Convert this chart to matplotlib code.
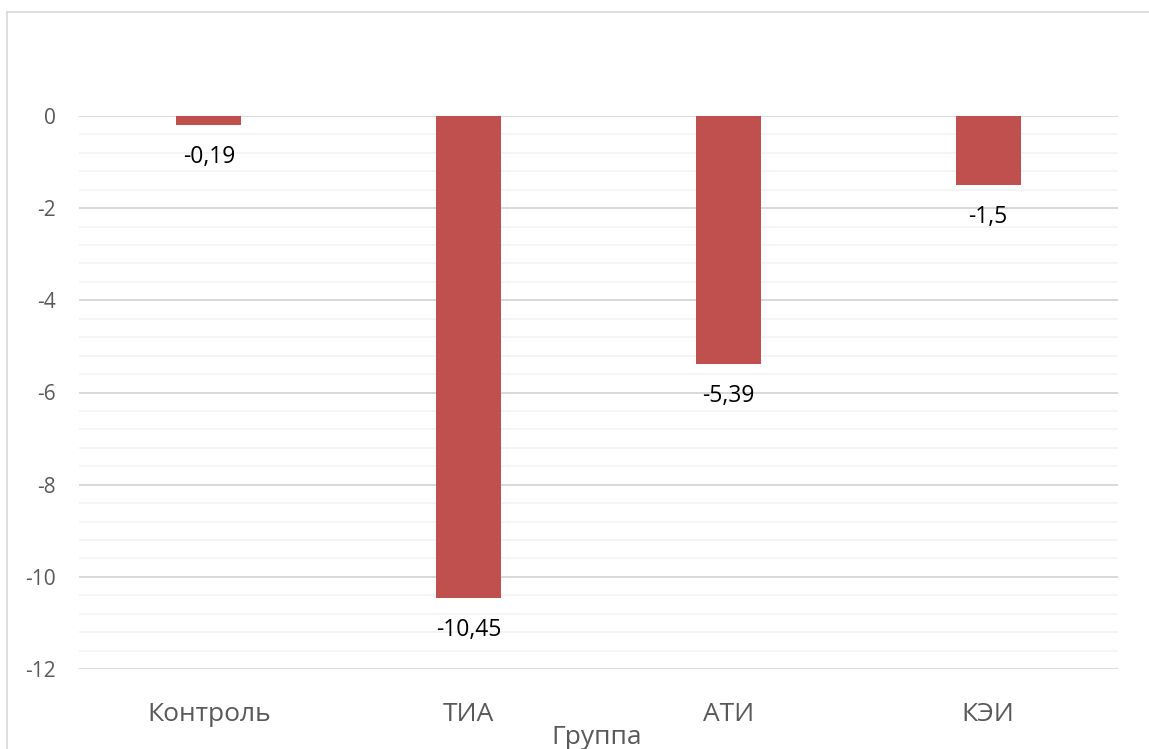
import matplotlib
matplotlib.use("Agg")
import matplotlib.pyplot as plt
from matplotlib.lines import Line2D
import numpy as np

categories = ["Контроль", "ТИА", "АТИ", "КЭИ"]
values = [-0.19, -10.45, -5.39, -1.5]
value_labels = ["-0,19", "-10,45", "-5,39", "-1,5"]
y_ticks = [0, -2, -4, -6, -8, -10, -12]
x_title = "Группа"

plt.rcParams['font.family'] = ['Open Sans', 'DejaVu Sans']

W, H = 1149, 749
fig = plt.figure(figsize=(W / 100, H / 100), dpi=100)

# outer chart border
fig.add_artist(Line2D([7 / W, 7 / W], [0, 1 - 12 / H], color="#D9D9D9", lw=1.2, transform=fig.transFigure))
fig.add_artist(Line2D([7 / W, 1], [1 - 12 / H, 1 - 12 / H], color="#D9D9D9", lw=1.2, transform=fig.transFigure))

left, right = 79 / W, 1118 / W
bottom, top = 1 - 669 / H, 1 - 116 / H
ax = fig.add_axes([left, bottom, right - left, top - bottom])

x = list(range(len(categories)))
ax.set_xlim(-0.5, len(categories) - 0.5)
ax.set_ylim(-12, 0)

# gridlines
for yv in np.arange(0, -12.01, -0.4):
    ax.axhline(yv, color="#F2F2F2", lw=1.2, zorder=0)
for yv in y_ticks:
    ax.axhline(yv, color="#D9D9D9", lw=1.4, zorder=1)

ax.bar(x, values, width=0.25, color="#C0504D", zorder=3)

for xi, v, lab in zip(x, values, value_labels):
    ax.annotate(lab, (xi, v), xytext=(0, -23), textcoords="offset points",
                ha="center", va="center", fontsize=16.5, color="#000000")

ax.set_yticks(y_ticks)
ax.set_yticklabels([str(t) for t in y_ticks])
ax.set_xticks(x)
ax.set_xticklabels(categories)
ax.tick_params(axis="y", length=0, pad=17, labelsize=15, labelcolor="#595959")
ax.tick_params(axis="x", length=0, pad=24, labelsize=19, labelcolor="#595959")
for s in ax.spines.values():
    s.set_visible(False)
ax.patch.set_alpha(0)

fig.text(597 / W, 1 - 737 / H, x_title, ha="center", va="center", fontsize=19, color="#595959")

fig.savefig("out.png", dpi=100)
